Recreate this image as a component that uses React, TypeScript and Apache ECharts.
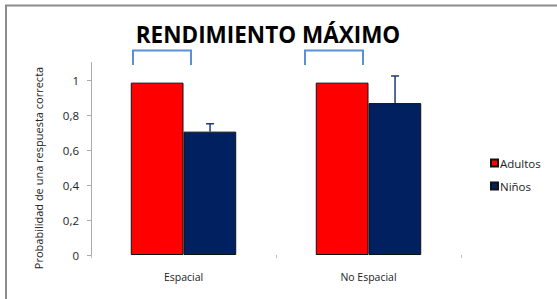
import React, { useEffect, useRef } from "react";
import * as echarts from "echarts";

const categories = ["Espacial", "No Espacial"];
const adultos = [0.985, 0.985];
const ninos = [0.705, 0.868];
const ninosErrorTop = [0.75, 1.023];
const yTicks = [0, 0.2, 0.4, 0.6, 0.8, 1];
const seriesNames = ["Adultos", "Niños"];
const title = "RENDIMIENTO MÁXIMO";
const yAxisTitle = "Probabilidad de una respuesta correcta";

export default function App() {
  const ref = useRef<HTMLDivElement>(null);
  useEffect(() => {
    const chart = echarts.init(ref.current!, undefined, { renderer: "svg" });
    const font = "'Open Sans', 'Noto Sans', sans-serif";
    const bracketStyle = { stroke: "#5B8FD6", lineWidth: 2, fill: "none" };
    chart.setOption({
      animation: false,
      backgroundColor: "#ffffff",
      title: {
        text: title,
        left: 263,
        top: 18,
        textAlign: "center",
        textStyle: { fontFamily: font, fontWeight: "bold", fontSize: 22.5, color: "#000" },
      },
      legend: {
        orient: "vertical",
        left: 485,
        top: 152,
        itemWidth: 7,
        itemHeight: 7,
        itemGap: 11,
        icon: "rect",
        data: seriesNames,
        textStyle: { fontFamily: font, fontSize: 11.5, color: "#222", padding: [0, 0, 0, -3] },
      },
      grid: { left: 91, right: 96, top: 62.5, bottom: 44 },
      xAxis: {
        type: "category",
        data: categories,
        axisLine: { show: false },
        axisTick: { show: true, length: 3, lineStyle: { color: "#bbb" } },
        axisLabel: { fontFamily: font, fontSize: 10.5, color: "#222", margin: 16 },
      },
      yAxis: {
        type: "value",
        min: 0,
        max: 1.1,
        interval: 0.2,
        splitLine: { show: false },
        axisLine: { show: true, lineStyle: { color: "#aaa", width: 1 } },
        axisTick: { show: true, length: 4, customValues: yTicks, lineStyle: { color: "#aaa" } },
        axisLabel: {
          customValues: yTicks,
          fontFamily: font,
          fontSize: 11.5,
          color: "#222",
          margin: 12,
          formatter: (v: number) => String(v).replace(".", ","),
        },
      },
      series: [
        {
          name: seriesNames[0],
          type: "bar",
          data: adultos,
          barGap: "0%",
          barCategoryGap: "43%",
          itemStyle: { color: "#FF0000", borderColor: "#111", borderWidth: 1 },
        },
        {
          name: seriesNames[1],
          type: "bar",
          data: ninos,
          barGap: "0%",
          barCategoryGap: "43%",
          itemStyle: { color: "#002060", borderColor: "#111", borderWidth: 1 },
        },
        {
          type: "custom",
          name: "err",
          data: ninos.map((v, i) => [i, v, ninosErrorTop[i]]),
          z: 10,
          renderItem: (params: any, api: any) => {
            const i = api.value(0);
            const base = api.coord([i, api.value(1)]);
            const top = api.coord([i, api.value(2)]);
            const size = api.size([1, 0]);
            const x = base[0] + size[0] * 0.1435;
            const style = { stroke: "#1F3A78", lineWidth: 1.5 };
            return {
              type: "group",
              children: [
                { type: "line", shape: { x1: x, y1: base[1], x2: x, y2: top[1] }, style },
                { type: "line", shape: { x1: x - 4, y1: top[1], x2: x + 4, y2: top[1] }, style },
              ],
            };
          },
        },
      ],
      graphic: [
        {
          type: "polyline",
          shape: { points: [[6, 300], [6, 5.5], [560, 5.5]] },
          style: { stroke: "#8c8c8c", lineWidth: 2, fill: "none" },
        },
        {
          type: "polyline",
          shape: { points: [[133, 65], [133, 50.5], [191, 50.5], [191, 65]] },
          style: bracketStyle,
        },
        {
          type: "polyline",
          shape: { points: [[305, 65], [305, 50.5], [363, 50.5], [363, 65]] },
          style: bracketStyle,
        },
        {
          type: "text",
          x: 38,
          y: 168,
          rotation: Math.PI / 2,
          style: {
            text: yAxisTitle,
            fontFamily: font,
            fontSize: 11,
            fill: "#222",
            align: "center",
            verticalAlign: "middle",
          },
        },
      ],
    });
    return () => chart.dispose();
  }, []);
  return <div ref={ref} style={{ width: 557, height: 299, position: "absolute", left: 0, top: 0 }} />;
}
